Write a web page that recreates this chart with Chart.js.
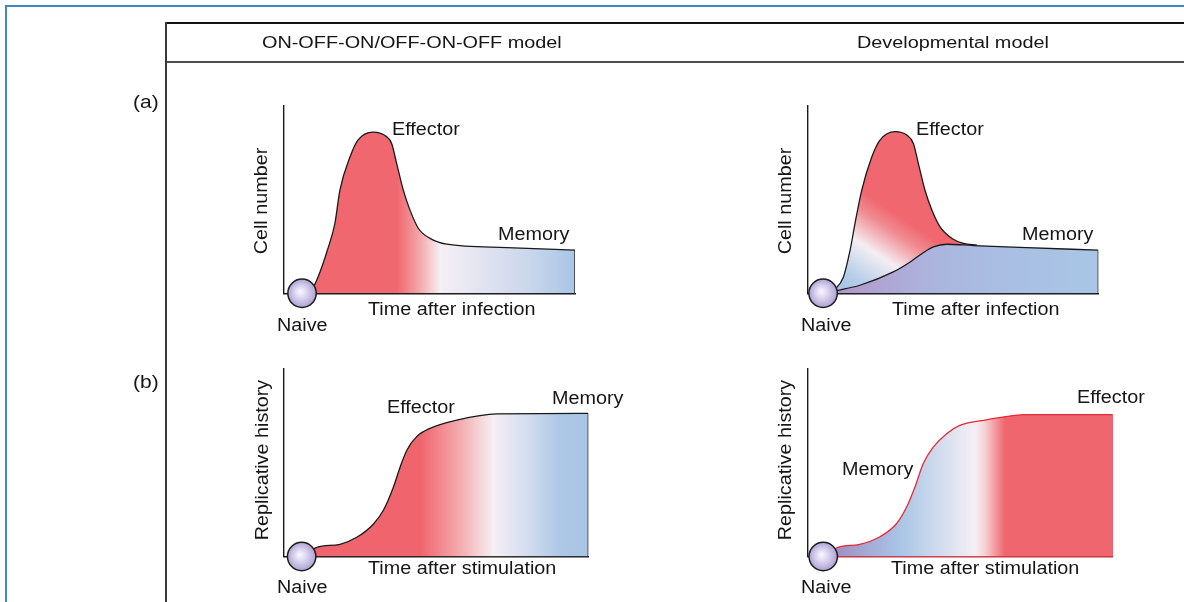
<!DOCTYPE html>
<html lang="en">
<head>
<meta charset="UTF-8" />
<title>ON-OFF-ON/OFF-ON-OFF vs developmental model</title>
<script src="https://cdn.jsdelivr.net/npm/chart.js"></script>
<style>
  body { margin: 0; background: #fff; font-family: "Liberation Sans", Arial, Helvetica, sans-serif; color: #161616; }
  #stage { position: relative; width: 1184px; height: 602px; overflow: hidden; }
  #stage canvas { position: absolute; left: 0; top: 0; }

  /* frame + table rules */
  .frame { position: absolute; left: 5px; top: 5px; right: -10px; bottom: -10px;
           border-top: 2px solid #3d88c4; border-left: 2px solid #3d88c4; }
  .rule-top { position: absolute; left: 165px; top: 22px; width: 1030px; border-top: 2px solid #111; }
  .rule-mid { position: absolute; left: 165px; top: 61px; width: 1030px; border-top: 2px solid #4d4d4d; }
  .rule-v { position: absolute; left: 165px; top: 22px; height: 600px; border-left: 2px solid #3a3a3a; }

  /* text */
  .lbl { position: absolute; font-size: 17.5px; line-height: 1; white-space: nowrap;
         transform-origin: 0 50%; transform: translateY(-50%) scaleX(1.13); }
  .head { font-size: 16px; transform: translateY(-50%) scaleX(1.24); }
  .vlbl { position: absolute; font-size: 17.5px; line-height: 1; white-space: nowrap;
          transform: translate(-50%, -50%) rotate(-90deg) scaleX(1.13); }
</style>
</head>
<body>
<div id="stage">
  <div class="frame"></div>
  <div class="rule-top"></div>
  <div class="rule-mid"></div>
  <div class="rule-v"></div>

  <canvas id="chartA1" width="1184" height="602"></canvas>
  <canvas id="chartA2" width="1184" height="602"></canvas>
  <canvas id="chartB1" width="1184" height="602"></canvas>
  <canvas id="chartB2" width="1184" height="602"></canvas>

  <!-- headers -->
  <span class="lbl head" style="left:262px; top:43px;">ON-OFF-ON/OFF-ON-OFF model</span>
  <span class="lbl head" style="left:857px; top:43px;">Developmental model</span>
  <span class="lbl" style="left:133px; top:103px; transform: translateY(-50%) scaleX(1.2);">(a)</span>
  <span class="lbl" style="left:133px; top:383px; transform: translateY(-50%) scaleX(1.2);">(b)</span>

  <!-- panel a, left -->
  <span class="lbl" style="left:392px; top:130px;">Effector</span>
  <span class="lbl" style="left:498px; top:235px;">Memory</span>
  <span class="vlbl" style="left:262px; top:201px;">Cell number</span>
  <span class="lbl" style="left:368px; top:310px;">Time after infection</span>
  <span class="lbl" style="left:277px; top:326px;">Naive</span>

  <!-- panel a, right -->
  <span class="lbl" style="left:916px; top:130px;">Effector</span>
  <span class="lbl" style="left:1022px; top:235px;">Memory</span>
  <span class="vlbl" style="left:786px; top:201px;">Cell number</span>
  <span class="lbl" style="left:892px; top:310px;">Time after infection</span>
  <span class="lbl" style="left:801px; top:326px;">Naive</span>

  <!-- panel b, left -->
  <span class="lbl" style="left:387px; top:408px;">Effector</span>
  <span class="lbl" style="left:552px; top:399px;">Memory</span>
  <span class="vlbl" style="left:263px; top:460px;">Replicative history</span>
  <span class="lbl" style="left:368px; top:569px;">Time after stimulation</span>
  <span class="lbl" style="left:277px; top:588px;">Naive</span>

  <!-- panel b, right -->
  <span class="lbl" style="left:1077px; top:398px;">Effector</span>
  <span class="lbl" style="left:842px; top:470px;">Memory</span>
  <span class="vlbl" style="left:786px; top:460px;">Replicative history</span>
  <span class="lbl" style="left:891px; top:569px;">Time after stimulation</span>
  <span class="lbl" style="left:801px; top:588px;">Naive</span>
</div>

<script>
  // (a) left: cell number vs time, one curve
  const a1X = [6.2, 10, 11.7, 14.9, 17.5, 19.2, 22.7, 25.4, 30.6, 35.3, 37, 38.7, 41, 43.3, 46.2, 50.2, 55.9, 76.5, 100];
  const a1Y = [0, 3.2, 8.7, 23, 37.4, 55, 72.9, 81.8, 86.1, 83.6, 80, 69.4, 55, 44.4, 34.6, 29.3, 26.2, 24.4, 23];

  // (a) right: effector curve + memory curve
  const a2EffX = [5.2, 9.5, 12.2, 14.5, 16.2, 18.5, 22, 24.8, 30, 34, 36.3, 38, 40.3, 42.7, 45.5, 49.6, 53.6, 58.2];
  const a2EffY = [0, 2.5, 8.7, 23, 37.3, 55, 72.9, 81.8, 86.3, 84.5, 80, 69.4, 55, 44.4, 35.5, 29.3, 26.6, 25.7];
  const a2MemX = [5.2, 10.4, 17.9, 29.4, 35.2, 39.8, 43.2, 47.8, 57, 75.4, 100];
  const a2MemY = [0, 1.6, 4.3, 11.4, 16.7, 21.8, 24.8, 26.2, 25.5, 24.4, 23];

  // (b) left: replicative history vs time
  const b1X = [5.8, 10.8, 18.4, 23.9, 29.4, 32.7, 36, 38.2, 40.4, 43.6, 48, 56.8, 70, 100];
  const b1Y = [0, 4.9, 6.5, 10.2, 17.3, 24.7, 37.1, 47.7, 56.6, 63.7, 68.1, 72.5, 75.8, 76];

  // (b) right
  const b2X = [5, 9.9, 17, 23.6, 29.1, 32.4, 35.1, 37.8, 41.1, 45.5, 49.8, 58.6, 71.7, 100];
  const b2Y = [0, 4.9, 6.5, 10.5, 17.6, 26.5, 37.1, 49.5, 58.3, 65.5, 69.9, 72.9, 75.7, 75.7];

  // naive cell positions (x value on the time axis)
  const naiveX = { a1: 6.2, a2: 5.2, b1: 5.8, b2: 5 };

  const pts = (xs, ys) => xs.map((x, i) => ({ x, y: ys[i] }));
  const edge = (xs, ys) => [{ x: xs[xs.length - 1], y: 0 }, { x: xs[xs.length - 1], y: ys[ys.length - 1] }];

  // horizontal gradient, stops given on the x scale (0..100)
  function hGrad(stops) {
    return ctx => {
      const ch = ctx.chart, area = ch.chartArea;
      if (!area) return 'transparent';
      const g = ch.ctx.createLinearGradient(area.left, 0, area.right, 0);
      stops.forEach(([v, c]) => g.addColorStop(v / 100, c));
      return g;
    };
  }

  // diagonal gradient between two data points
  function dGrad(p0, p1, stops) {
    return ctx => {
      const ch = ctx.chart;
      if (!ch.chartArea) return 'transparent';
      const sx = ch.scales.x, sy = ch.scales.y;
      const g = ch.ctx.createLinearGradient(
        sx.getPixelForValue(p0[0]), sy.getPixelForValue(p0[1]),
        sx.getPixelForValue(p1[0]), sy.getPixelForValue(p1[1]));
      stops.forEach(([v, c]) => g.addColorStop(v, c));
      return g;
    };
  }

  function naiveFill(ctx) {
    const ch = ctx.chart;
    if (!ch.chartArea || !ctx.raw) return '#c2b9e0';
    const cx = ch.scales.x.getPixelForValue(ctx.raw.x);
    const cy = ch.scales.y.getPixelForValue(ctx.raw.y);
    const g = ch.ctx.createRadialGradient(cx - 2, cy - 2, 0, cx, cy, 15);
    g.addColorStop(0, '#fbfaff');
    g.addColorStop(0.45, '#d8d1ee');
    g.addColorStop(1, '#a99dd0');
    return g;
  }

  function naive(x) {
    return {
      data: [{ x, y: 0 }], order: 0, showLine: false, clip: false,
      pointRadius: 14.2, pointBorderWidth: 1.5, pointBorderColor: '#1d1d1d',
      pointBackgroundColor: naiveFill
    };
  }

  function line(data, color, fill, order) {
    return {
      data, order, borderColor: color, borderWidth: 1.3, pointRadius: 0,
      cubicInterpolationMode: 'monotone', fill: fill ? 'origin' : false,
      backgroundColor: fill || 'transparent'
    };
  }

  function makeChart(id, pad, datasets, xBorder) {
    const axis = color => ({
      type: 'linear', min: 0, max: 100,
      ticks: { display: false },
      grid: { display: false, drawTicks: false },
      border: { display: true, color, width: 1.4 }
    });
    return new Chart(document.getElementById(id), {
      type: 'line',
      data: { datasets },
      options: {
        responsive: false, animation: false, events: [],
        layout: { padding: pad },
        plugins: { legend: { display: false }, tooltip: { enabled: false } },
        scales: { x: axis(xBorder || '#1a1a1a'), y: axis('#1a1a1a') }
      }
    });
  }

  // (a) ON-OFF-ON
  makeChart('chartA1', { left: 284, top: 106, right: 609, bottom: 308.7 }, [
    naive(naiveX.a1),
    line(edge(a1X, a1Y), '#1a1a1a', null, 1),
    line(pts(a1X, a1Y), '#1a1a1a', hGrad([
      [0, '#f0676f'], [38.8, '#f0676f'], [46.7, '#f4a7ab'], [53.6, '#f6eff4'],
      [67, '#e3e4f1'], [84, '#cad7ec'], [100, '#a9c5e6']]), 2)
  ]);

  // (a) developmental
  makeChart('chartA2', { left: 808, top: 106, right: 85.7, bottom: 308.7 }, [
    naive(naiveX.a2),
    line(edge(a2MemX, a2MemY), '#1a1a1a', null, 1),
    line(pts(a2MemX, a2MemY), '#1a1a1a', hGrad([
      [0, '#b08ec4'], [20, '#b0a0d0'], [42, '#abb4dd'], [70, '#a9bfe3'], [100, '#a9c6e6']]), 2),
    line(pts(a2EffX, a2EffY), '#1a1a1a', dGrad([12.8, 1.6], [33.4, 49.7], [
      [0, '#a7c3e6'], [0.16, '#b8cfea'], [0.44, '#f4eef3'], [0.7, '#f08b91'],
      [0.85, '#f0676f'], [1, '#f0676f']]), 3)
  ]);

  // (b) ON-OFF-ON
  makeChart('chartB1', { left: 284, top: 368.3, right: 595.7, bottom: 45.5 }, [
    naive(naiveX.b1),
    line(edge(b1X, b1Y), '#1a1a1a', null, 1),
    line(pts(b1X, b1Y), '#1a1a1a', hGrad([
      [0, '#f0646d'], [44.7, '#f0646d'], [57.9, '#f3acaf'], [68.8, '#f6eff4'],
      [79.3, '#d6deef'], [90.8, '#adc7e6'], [100, '#a9c5e6']]), 2)
  ]);

  // (b) developmental
  makeChart('chartB2', { left: 808, top: 369, right: 71.3, bottom: 45.5 }, [
    naive(naiveX.b2),
    line(edge(b2X, b2Y), '#e8333c', null, 1),
    line(pts(b2X, b2Y), '#e62a35', hGrad([
      [0, '#9c78b4'], [30.2, '#a9c5e6'], [54.8, '#f5f0f5'], [58, '#f6d2d5'],
      [64.6, '#f0666e'], [100, '#f0666e']]), 2)
  ], '#c8323c');
</script>
</body>
</html>
